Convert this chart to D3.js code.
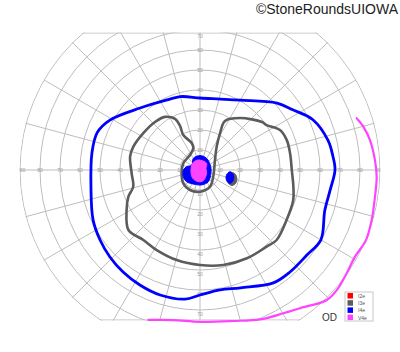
<!DOCTYPE html>
<html>
<head>
<meta charset="utf-8">
<script src="https://cdn.jsdelivr.net/npm/d3@7"></script>
<style>
  body { margin: 0; background: #fff; }
  svg { display: block; font-family: "Liberation Sans", Arial, sans-serif; }
</style>
</head>
<body>
<svg id="chart"></svg>
<script>
// grid
var ringValues = [10, 20, 30, 40, 50, 60, 70, 80, 90];
var meridians = d3.range(0, 360, 15);
var topLimit = 68.5;     // chart is cut flat above this eccentricity
var bottomLimit = 75;    // and below this one

// legend
var legendNames = ["I2e", "I3e", "I4e", "V4e"];
var legendColors = ["#ff0000", "#5c5c5c", "#0000ff", "#ff44ff"];

// isopters: [meridian in deg (ccw from right), eccentricity in deg]
var i4eOuter = [[90, 36], [74, 36.9], [60, 40.3], [41, 51], [33, 55.3], [24, 61.8], [13, 65.7], [6, 66.8],
  [0, 67.5], [351, 65.8], [342, 65.6], [330, 69.8], [321.5, 68.3], [311.4, 68], [303, 67.3], [289, 62.3],
  [279.5, 60.8], [270, 62.5], [263.4, 65], [252.3, 65.6], [242.4, 64.9], [233, 63.9], [224, 62.6], [215, 61],
  [205, 59], [189, 55.2], [171, 54.7], [160, 54.7], [151, 51.5], [134, 43.1], [115, 38.7], [105, 38]];

var i3eOuter = [[107, 11.4], [107, 14], [115.5, 19.4], [114.4, 24.2], [116, 28.4], [123.4, 31.8], [133.2, 32.9],
  [147, 33.8], [160.7, 35.3], [169, 35.6], [183, 34.2], [194, 34.4], [200.4, 38.2], [208.6, 41.8], [220, 46.7],
  [231, 45], [241.6, 45.5], [255.5, 46.5], [270, 47.5], [283.8, 48.9], [298, 50], [311, 50.8], [317.6, 51.9],
  [330, 50], [342, 49], [350, 47.4], [0, 45.9], [10.5, 45.8], [19, 45.9], [26.6, 44.7], [34, 40.2], [37.7, 39.2],
  [52.4, 32.8], [63, 27.5], [61.4, 20.9], [54.4, 14.3], [33.7, 9], [333, 7.4], [301, 9.7], [270, 10.85],
  [243.4, 11.2], [218.5, 10.7], [190, 9.3], [158, 9], [123.7, 9]];

var v4eOuter = [[18.3, 82.5], [14.9, 84.5], [10, 86.3], [3.3, 87.6], [357.8, 88.4], [351.3, 88.5], [343.8, 89.4],
  [337.1, 90.1], [330.8, 88.8], [324.8, 89.7], [318.7, 91], [314.3, 90.8], [305.9, 85.3], [300.2, 82.9],
  [291.9, 80.5], [282.4, 77.3], [270, 75.9], [259.9, 76.2], [251, 79.3]];

var i4eCentral = [[90, 7.2], [60, 6.7], [17, 5.6], [343, 5.7], [305, 7.2], [276.5, 7.5], [251, 7.6], [221, 8.9],
  [202, 9], [180, 8.3], [166, 6.9], [149, 4.8], [120, 6.7]];
var v4eCentral = [[100, 5.1], [45, 4.7], [16, 3.1], [334, 3.7], [287, 5.6], [262, 5.9], [229, 5.5], [191, 4.6], [137, 5]];

var i4eBlindSpot = [[356.8, 15.05], [353.9, 16.4], [347.5, 17.3], [340.6, 17.3], [336, 16.4], [337.2, 14.8],
  [344, 13.5], [352.7, 13.8]];
var i3eBlindSpot = [[355.5, 16.05], [352.9, 17.9], [346.3, 19], [339, 19], [334.2, 17.8], [334.5, 15.8],
  [341.6, 14.2], [351.2, 14.4]];

var width = 400, height = 352;
var cx = 200, cy = 170;

var svg = d3.select("#chart").attr("width", width).attr("height", height);

var r = d3.scaleLinear().domain([0, 90]).range([0, 180]);

// meridian (ccw from right) -> d3 radial angle (cw from up)
function toAngle(m) { return (90 - m) * Math.PI / 180; }

var radial = d3.lineRadial()
  .angle(function(d) { return toAngle(d[0]); })
  .radius(function(d) { return r(d[1]); });

var defs = svg.append("defs");
defs.append("clipPath").attr("id", "clipRect")
  .append("rect")
  .attr("x", 0).attr("width", width)
  .attr("y", cy - r(topLimit) - 0.5)
  .attr("height", r(topLimit) + r(bottomLimit) + 1);
defs.append("clipPath").attr("id", "clipCircle")
  .append("circle").attr("cx", cx).attr("cy", cy).attr("r", r(90) + 0.5);

var outer = svg.append("g").attr("clip-path", "url(#clipRect)");
var grid = outer.append("g").attr("clip-path", "url(#clipCircle)");

// rings
grid.selectAll("circle.ring")
  .data(ringValues).enter()
  .append("circle")
  .attr("class", "ring")
  .attr("cx", cx).attr("cy", cy)
  .attr("r", function(d) { return r(d); })
  .attr("fill", "none")
  .attr("stroke", "#bdbdbd")
  .attr("stroke-width", 1);

// meridians
grid.selectAll("line.meridian")
  .data(meridians).enter()
  .append("line")
  .attr("class", "meridian")
  .attr("x1", cx).attr("y1", cy)
  .attr("x2", function(d) { return cx + r(95) * Math.cos(d * Math.PI / 180); })
  .attr("y2", function(d) { return cy - r(95) * Math.sin(d * Math.PI / 180); })
  .attr("stroke", "#bdbdbd")
  .attr("stroke-width", 1);

// flat top / bottom edges
grid.selectAll("line.edge")
  .data([-topLimit, bottomLimit]).enter()
  .append("line")
  .attr("class", "edge")
  .attr("x1", 0).attr("x2", width)
  .attr("y1", function(d) { return cy + (d < 0 ? -r(-d) : r(d)); })
  .attr("y2", function(d) { return cy + (d < 0 ? -r(-d) : r(d)); })
  .attr("stroke", "#bdbdbd")
  .attr("stroke-width", 1);

// axis numbers
var labelStyle = function(sel) {
  sel.attr("font-size", 5)
    .attr("fill", "#9a9a9a")
    .attr("text-anchor", "middle")
    .attr("dominant-baseline", "central");
};
svg.selectAll("text.hlab")
  .data(ringValues.map(function(v) { return [v, 1]; }).concat(ringValues.map(function(v) { return [v, -1]; })))
  .enter().append("text")
  .attr("class", "hlab")
  .attr("x", function(d) { return cx + d[1] * r(d[0]) - d[1] * (d[0] === 90 ? 2.5 : 0); })
  .attr("y", cy)
  .text(function(d) { return d[0]; })
  .call(labelStyle);

var upLabels = ringValues.filter(function(v) { return v <= 70; });
svg.selectAll("text.ulab")
  .data(upLabels).enter().append("text")
  .attr("class", "ulab")
  .attr("x", cx)
  .attr("y", function(d) { return Math.max(cy - r(d), cy - r(topLimit) + 2.5); })
  .text(function(d) { return d; })
  .call(labelStyle);
svg.selectAll("text.dlab")
  .data(upLabels).enter().append("text")
  .attr("class", "dlab")
  .attr("x", cx)
  .attr("y", function(d) { return cy + r(d) + 4; })
  .text(function(d) { return d; })
  .call(labelStyle);

// isopters
var plot = svg.append("g").attr("transform", "translate(" + cx + "," + cy + ")");

plot.append("path")
  .attr("d", radial.curve(d3.curveCatmullRomClosed)(i3eOuter))
  .attr("fill", "none").attr("stroke", legendColors[1]).attr("stroke-width", 2.6)
  .attr("stroke-linejoin", "round");

plot.append("path")
  .attr("d", radial.curve(d3.curveCatmullRomClosed)(i4eOuter))
  .attr("fill", "none").attr("stroke", legendColors[2]).attr("stroke-width", 2.8)
  .attr("stroke-linejoin", "round");

plot.append("path")
  .attr("d", radial.curve(d3.curveCatmullRom)(v4eOuter))
  .attr("fill", "none").attr("stroke", legendColors[3]).attr("stroke-width", 2.2)
  .attr("stroke-linecap", "round");

plot.append("path")
  .attr("d", radial.curve(d3.curveCatmullRomClosed)(i3eBlindSpot))
  .attr("fill", legendColors[1]).attr("stroke", legendColors[1]).attr("stroke-width", 1);

plot.append("path")
  .attr("d", radial.curve(d3.curveCatmullRomClosed)(i4eBlindSpot))
  .attr("fill", legendColors[2]).attr("stroke", legendColors[2]).attr("stroke-width", 1);

plot.append("path")
  .attr("d", radial.curve(d3.curveCatmullRomClosed)(i4eCentral))
  .attr("fill", legendColors[2]).attr("stroke", legendColors[2]).attr("stroke-width", 1);

plot.append("path")
  .attr("d", radial.curve(d3.curveCatmullRomClosed)(v4eCentral))
  .attr("fill", legendColors[3]).attr("stroke", legendColors[3]).attr("stroke-width", 1);

// legend
var legend = svg.append("g").attr("transform", "translate(345,292)");
legend.append("rect")
  .attr("width", 28).attr("height", 29)
  .attr("fill", "#fff").attr("stroke", "#c8c8c8").attr("stroke-width", 1);
var items = legend.selectAll("g.item")
  .data(legendNames).enter()
  .append("g").attr("class", "item")
  .attr("transform", function(d, i) { return "translate(0," + (i * 7.2) + ")"; });
items.append("rect")
  .attr("x", 2.5).attr("y", 1)
  .attr("width", 5.5).attr("height", 5.5)
  .attr("fill", function(d, i) { return legendColors[i]; });
items.append("text")
  .attr("x", 13).attr("y", 4)
  .attr("dominant-baseline", "central")
  .attr("font-size", 5).attr("fill", "#555")
  .text(function(d) { return d; });

svg.append("text")
  .attr("x", 322).attr("y", 321)
  .attr("font-size", 10).attr("fill", "#333")
  .text("OD");

svg.append("text")
  .attr("x", 398).attr("y", 13.5)
  .attr("text-anchor", "end")
  .attr("font-size", 14).attr("fill", "#222")
  .text("\u00a9StoneRoundsUIOWA");
</script>
</body>
</html>
